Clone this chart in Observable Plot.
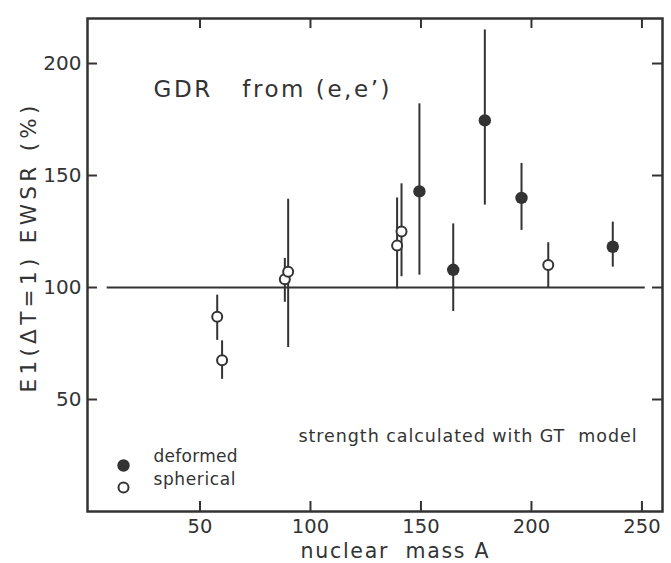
<!DOCTYPE html>
<html>
<head>
<meta charset="utf-8">
<script src="https://cdn.jsdelivr.net/npm/d3@7"></script>
<script src="https://cdn.jsdelivr.net/npm/@observablehq/plot@0.6"></script>
<style>
  html, body { margin: 0; padding: 0; background: #fff; }
  #chart { width: 671px; height: 563px; }
</style>
</head>
<body>
<div id="chart"></div>
<script>
// Spherical nuclei (open circles)
const sphericalA   = [57.8, 60.0, 88.4, 89.9, 139.2, 141.2, 207.6];
const sphericalVal = [86.9, 67.5, 103.7, 107.0, 118.7, 125.0, 110.0];
const sphericalLo  = [76.4, 59.0, 93.4, 73.2, 99.4, 104.8, 100.0];
const sphericalHi  = [96.6, 76.2, 113.0, 139.4, 140.0, 146.3, 120.0];

// Deformed nuclei (filled circles)
const deformedA   = [149.3, 164.6, 178.9, 195.5, 236.8];
const deformedVal = [142.9, 107.9, 174.6, 140.0, 118.2];
const deformedLo  = [105.5, 89.3, 136.8, 125.5, 109.1];
const deformedHi  = [182.0, 128.4, 215.0, 155.4, 129.2];

// 100% reference line extent (nuclear mass A)
const refLineFrom = 8;
const refLineTo = 251.5;
const refLineValue = 100;

const xTicks = [50, 100, 150, 200, 250];
const yTicks = [50, 100, 150, 200];

const titleText = "GDR\u00a0\u00a0\u00a0from\u00a0(e,e\u2019)";
const noteText = "strength calculated with GT\u00a0\u00a0model";
const legendLabels = ["deformed", "spherical"];
const xLabel = "nuclear\u00a0\u00a0mass\u00a0A";
const yLabel = "E1(\u0394T=1)\u00a0EWSR\u00a0(%)";

const spherical = sphericalA.map((a, i) => ({A: a, v: sphericalVal[i], lo: sphericalLo[i], hi: sphericalHi[i]}));
const deformed = deformedA.map((a, i) => ({A: a, v: deformedVal[i], lo: deformedLo[i], hi: deformedHi[i]}));

const ink = "#333";
const W = 671, H = 563, mL = 87, mR = 9, mT = 18, mB = 52;
const innerW = W - mL - mR, innerH = H - mT - mB;
const tick = 10;

const chart = Plot.plot({
  width: W,
  height: H,
  marginLeft: mL,
  marginRight: mR,
  marginTop: mT,
  marginBottom: mB,
  style: {fontFamily: "DejaVu Sans", color: ink, background: "white"},
  x: {domain: [-0.9, 259.3]},
  y: {domain: [0, 220.1]},
  marks: [
    Plot.axisX({ticks: xTicks, anchor: "bottom", tickSize: 0, tickPadding: 8, fontSize: 19.5, label: null}),
    Plot.axisY({ticks: yTicks, anchor: "left", tickSize: 0, tickPadding: 6, fontSize: 20, label: null}),
    // inward ticks on all four sides
    Plot.tickX(xTicks, {x: d => d, insetTop: innerH - tick, stroke: ink, strokeWidth: 2}),
    Plot.tickX(xTicks, {x: d => d, insetBottom: innerH - tick, stroke: ink, strokeWidth: 2}),
    Plot.tickY(yTicks, {y: d => d, insetRight: innerW - tick, stroke: ink, strokeWidth: 2}),
    Plot.tickY(yTicks, {y: d => d, insetLeft: innerW - tick, stroke: ink, strokeWidth: 2}),
    Plot.ruleY([refLineValue], {x1: refLineFrom, x2: refLineTo, y: d => d, stroke: ink, strokeWidth: 2}),
    Plot.ruleX(spherical, {x: "A", y1: "lo", y2: "hi", stroke: ink, strokeWidth: 2}),
    Plot.ruleX(deformed, {x: "A", y1: "lo", y2: "hi", stroke: ink, strokeWidth: 2}),
    Plot.dot(spherical, {x: "A", y: "v", r: 5, fill: "white", stroke: ink, strokeWidth: 2}),
    Plot.dot(deformed, {x: "A", y: "v", r: 6.2, fill: ink, stroke: "none"}),
    Plot.frame({stroke: ink, strokeWidth: 2.5}),
    // annotations
    Plot.text([titleText], {frameAnchor: "top-left", dx: 66, dy: 62, textAnchor: "start", fontSize: 23, fill: ink}),
    Plot.text([noteText], {frameAnchor: "bottom-left", dx: 211, dy: -69.5, textAnchor: "start", fontSize: 17.5, fill: ink}),
    Plot.dot([legendLabels[0]], {frameAnchor: "bottom-left", dx: 36, dy: -46, r: 6.2, fill: ink, stroke: "none"}),
    Plot.dot([legendLabels[1]], {frameAnchor: "bottom-left", dx: 36, dy: -24, r: 5, fill: "white", stroke: ink, strokeWidth: 2}),
    Plot.text([legendLabels[0]], {frameAnchor: "bottom-left", dx: 66, dy: -49.7, textAnchor: "start", fontSize: 17, fill: ink}),
    Plot.text([legendLabels[1]], {frameAnchor: "bottom-left", dx: 66, dy: -26.4, textAnchor: "start", fontSize: 17, fill: ink}),
    Plot.text([xLabel], {frameAnchor: "bottom", dx: 19.5, dy: 46.5, textAnchor: "middle", fontSize: 20.5, fill: ink}),
    Plot.text([yLabel], {frameAnchor: "left", dx: -58, dy: -16, rotate: -90, textAnchor: "middle", fontSize: 21.5, fill: ink})
  ]
});

document.getElementById("chart").appendChild(chart);

// stretch letter spacing of labels to match the original typewriter spacing
const lengths = new Map([
  [titleText, 236],
  [noteText, 338],
  [legendLabels[0], 84],
  [legendLabels[1], 82],
  [xLabel, 188],
  [yLabel, 287]
]);
d3.select(chart).selectAll("text").each(function() {
  const t = this.textContent;
  if (lengths.has(t)) {
    this.setAttribute("textLength", lengths.get(t));
    this.setAttribute("lengthAdjust", "spacing");
  }
});
</script>
</body>
</html>
